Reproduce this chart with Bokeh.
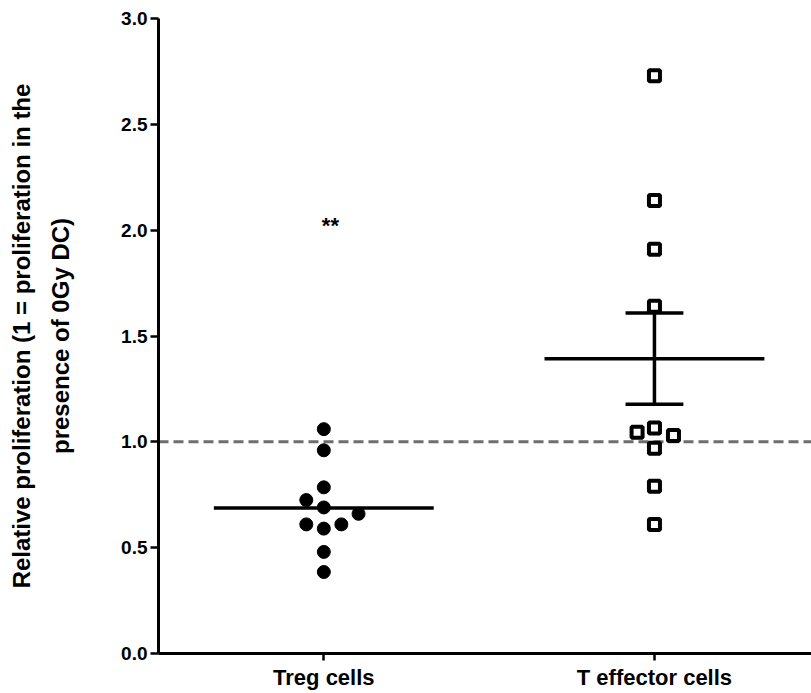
import numpy as np
from bokeh.plotting import figure
from bokeh.models import Range1d, FixedTicker, NumeralTickFormatter, Span, Label
from bokeh.embed import file_html
from bokeh.resources import INLINE

# ---- data ----
categories = ["Treg cells", "T effector cells"]
treg_values = [1.06, 0.96, 0.785, 0.725, 0.69, 0.66, 0.61, 0.61, 0.59, 0.48, 0.385]
teff_values = [2.73, 2.14, 1.91, 1.64, 1.045, 1.065, 1.03, 0.97, 0.79, 0.61]
reference_level = 1.0
significance = "**"

# ---- layout (beeswarm offsets, in category-slot units) ----
treg_offsets = [0, 0, 0, -0.106, 0, 0.21, -0.106, 0.106, 0, 0, 0]
teff_offsets = [0, 0, 0, 0, -0.105, 0, 0.115, 0, 0, 0]
cat_pos = [1, 3]
half_mean = 0.665
half_cap = 0.175

FONT = "Liberation Sans"

p = figure(width=811, height=693, x_range=Range1d(0, 3.95), y_range=Range1d(0, 3),
           output_backend="svg", toolbar_location=None,
           min_border_left=158, min_border_right=0, min_border_top=18, min_border_bottom=40)
p.outline_line_color = None
p.xgrid.visible = False
p.ygrid.visible = False
p.background_fill_color = "white"

# reference line
p.add_layout(Span(location=reference_level, dimension="width", line_color="#6e6e6e",
                  line_width=3, line_dash="10 5", level="underlay"))

# Treg points
tx = [cat_pos[0] + o for o in treg_offsets]
p.scatter(tx, treg_values, marker="circle", size=13, fill_color="black", line_color="black")

# Teff points
ex = [cat_pos[1] + o for o in teff_offsets]
p.scatter(ex, teff_values, marker="square", size=11, fill_color="white",
          line_color="black", line_width=4)

# means
tm = float(np.mean(treg_values))
em = float(np.mean(teff_values))
esem = float(np.std(teff_values, ddof=1) / np.sqrt(len(teff_values)))
p.segment(x0=[cat_pos[0] - half_mean, cat_pos[1] - half_mean],
          x1=[cat_pos[0] + half_mean, cat_pos[1] + half_mean],
          y0=[tm, em], y1=[tm, em], line_color="black", line_width=3.5)
# SEM error bar for T effector
p.segment(x0=[cat_pos[1], cat_pos[1] - half_cap, cat_pos[1] - half_cap],
          x1=[cat_pos[1], cat_pos[1] + half_cap, cat_pos[1] + half_cap],
          y0=[em - esem, em + esem, em - esem],
          y1=[em + esem, em + esem, em - esem], line_color="black", line_width=3.5)

# significance
p.add_layout(Label(x=cat_pos[0] + 0.04, y=2.02, text=significance, text_align="center",
                   text_baseline="middle", text_font=FONT, text_font_style="bold",
                   text_font_size="22px", text_color="black"))

# axes
p.xaxis.ticker = FixedTicker(ticks=cat_pos)
p.xaxis.major_label_overrides = {cat_pos[i]: categories[i] for i in range(2)}
p.yaxis.ticker = FixedTicker(ticks=[0, 0.5, 1.0, 1.5, 2.0, 2.5, 3.0])
p.yaxis.formatter = NumeralTickFormatter(format="0.0")
for ax in (p.xaxis[0], p.yaxis[0]):
    ax.axis_line_width = 3
    ax.axis_line_color = "black"
    ax.major_tick_line_width = 2.5
    ax.major_tick_line_color = "black"
    ax.major_tick_in = 0
    ax.minor_tick_line_color = None
    ax.major_label_text_font = FONT
    ax.major_label_text_font_style = "bold"
    ax.major_label_text_color = "black"
p.yaxis.major_tick_out = 8
p.xaxis.major_tick_out = 7
p.yaxis.major_label_text_font_size = "19px"
p.xaxis.major_label_text_font_size = "22px"
p.yaxis.major_label_standoff = 3
p.xaxis.major_label_standoff = 4

p.yaxis.axis_label = "Relative proliferation (1 = proliferation in the\npresence of 0Gy DC)"
p.yaxis.axis_label_text_font = FONT
p.yaxis.axis_label_text_font_style = "bold"
p.yaxis.axis_label_text_font_size = "24px"
p.yaxis.axis_label_text_line_height = 1.45
p.yaxis.axis_label_text_color = "black"
p.yaxis.axis_label_standoff = 44

open("out.html", "w").write(file_html(p, INLINE))
